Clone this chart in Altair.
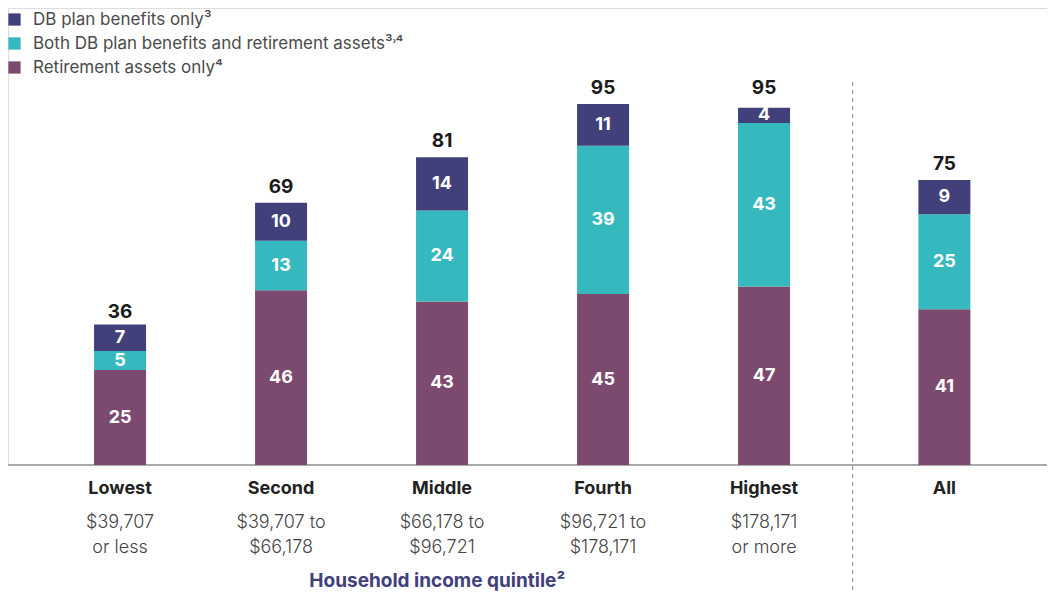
import altair as alt
import pandas as pd

# ---- data ----
categories = ["Lowest", "Second", "Middle", "Fourth", "Highest", "All"]
income_line1 = ["$39,707", "$39,707 to", "$66,178 to", "$96,721 to", "$178,171", ""]
income_line2 = ["or less", "$66,178", "$96,721", "$178,171", "or more", ""]
series = ["DB plan benefits only³", "Both DB plan benefits and retirement assets³˒⁴", "Retirement assets only⁴"]
db_only = [7, 10, 14, 11, 4, 9]
both = [5, 13, 24, 39, 43, 25]
ret_only = [25, 46, 43, 45, 47, 41]
totals = [36, 69, 81, 95, 95, 75]
axis_title = "Household income quintile²"

colors = ["#41407B", "#35B9BE", "#7B4A6E"]

# ---- layout (slot positions along x) ----
slots = [0, 1, 2, 3, 4, 5.12]
divider_slot = 4.55

W, H = 1039, 457
BOTTOM = 128
x_scale = alt.Scale(domain=[-0.696, -0.696 + W / 161], nice=False, zero=False, padding=0)
y_scale = alt.Scale(domain=[0, H / 3.8], nice=False, padding=0)

rows = []
for i, c in enumerate(categories):
    cum = 0
    for s, vals, order in [(series[2], ret_only, 3), (series[1], both, 2), (series[0], db_only, 1)]:
        v = vals[i]
        rows.append({"cat": c, "pos": slots[i], "series": s, "value": v,
                     "low": cum, "high": cum + v, "mid": cum + v / 2, "order": order})
        cum += v
seg = pd.DataFrame(rows)

cats = pd.DataFrame({"cat": categories, "pos": slots, "total": totals,
                     "l1": income_line1, "l2": income_line2})

FONT = "Inter"

x = alt.X("pos:Q", scale=x_scale, axis=None)

bars = alt.Chart(seg).mark_bar(size=52).encode(
    x=x,
    y=alt.Y("low:Q", scale=y_scale, axis=None),
    y2="high:Q",
    color=alt.Color("series:N",
                    scale=alt.Scale(domain=series, range=colors),
                    legend=alt.Legend(title=None, orient="none", legendX=-2, legendY=3,
                                      symbolType="square", symbolSize=150,
                                      symbolStrokeWidth=0, symbolOpacity=1,
                                      labelFont=FONT, labelFontSize=17,
                                      labelColor="#4a4a4a", labelLimit=600,
                                      labelOffset=10, rowPadding=6, padding=0)),
)

seg_labels = alt.Chart(seg).mark_text(font=FONT, fontSize=18, fontWeight="bold",
                                      color="white", baseline="middle").encode(
    x=x, y=alt.Y("mid:Q", scale=y_scale), text="value:Q")

tot_labels = alt.Chart(cats).mark_text(font=FONT, fontSize=19, fontWeight="bold",
                                       color="#1a1a1a", baseline="bottom", dy=-6).encode(
    x=x, y=alt.Y("total:Q", scale=y_scale), text="total:Q")

cat_labels = alt.Chart(cats).mark_text(font=FONT, fontSize=18, fontWeight="bold",
                                       color="#222222", baseline="middle").encode(
    x=x, y=alt.value(H + 24), text="cat:N")

inc1 = alt.Chart(cats).mark_text(font=FONT, fontSize=18, fontWeight=300, color="#444444",
                                 baseline="middle").encode(
    x=x, y=alt.value(H + 58), text="l1:N")
inc2 = alt.Chart(cats).mark_text(font=FONT, fontSize=18, fontWeight=300, color="#444444",
                                 baseline="middle").encode(
    x=x, y=alt.value(H + 83), text="l2:N")

title_df = pd.DataFrame({"pos": [1.97], "t": [axis_title]})
title = alt.Chart(title_df).mark_text(font=FONT, fontSize=19, fontWeight="bold",
                                      color="#41407B", baseline="middle").encode(
    x=x, y=alt.value(H + 116), text="t:N")

baseline = alt.Chart(title_df).mark_rule(color="#aaaaaa", strokeWidth=2).encode(
    x=alt.value(-4), x2=alt.value(W + 7), y=alt.value(H))

div_df = pd.DataFrame({"pos": [divider_slot]})
divider = alt.Chart(div_df).mark_rule(color="#999999", strokeWidth=1.2,
                                      strokeDash=[4, 4]).encode(
    x=x, y=alt.value(74), y2=alt.value(H + BOTTOM))

chart = alt.layer(baseline, divider, bars, seg_labels, tot_labels, cat_labels,
                  inc1, inc2, title).properties(
    width=W, height=H,
    autosize=alt.AutoSizeParams(type="none"),
    padding={"left": 0, "top": 0, "right": 0, "bottom": BOTTOM},
).configure_view(stroke=None).configure(background="white")

chart.save("out.html", embed_options={"renderer": "svg", "actions": False})
